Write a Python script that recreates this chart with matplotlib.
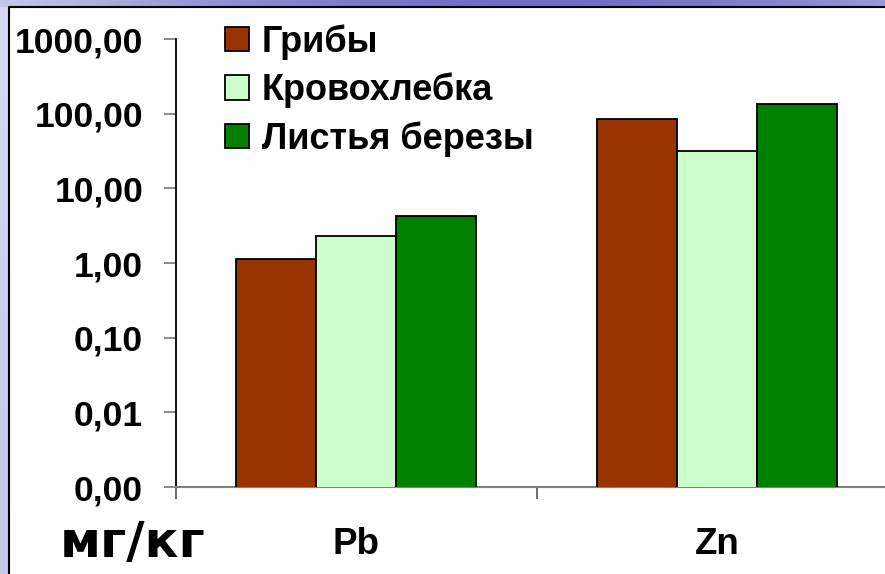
import matplotlib
matplotlib.use("Agg")
import matplotlib.pyplot as plt
import numpy as np
from matplotlib.patches import Rectangle

# Data
categories = ['Pb', 'Zn']
series = ['Грибы', 'Кровохлебка', 'Листья березы']
gribi = [1.13, 85.0]
krovohlebka = [2.3, 31.5]
berioza = [4.3, 133.0]
ytick_vals = [0.001, 0.01, 0.1, 1, 10, 100, 1000]
ytick_labels = ['0,00', '0,01', '0,10', '1,00', '10,00', '100,00', '1000,00']
unit_label = 'мг/кг'

colors = ['#993300', '#CCFFCC', '#008000']

plt.rcParams['font.family'] = ['Liberation Sans', 'DejaVu Sans']
plt.rcParams['font.weight'] = 'bold'

W, H = 885, 574
fig = plt.figure(figsize=(W / 100, H / 100), dpi=100)

# slide-like background: blue band on top, lavender strip on the left
bg = fig.add_axes([0, 0, 1, 1])
gx = np.linspace(0, 1, 300)[None, :] * np.ones((20, 1))
s = np.sin(gx * 2.6)
img = np.dstack([0.78 - 0.32 * s, 0.78 - 0.36 * s, 0.92 - 0.14 * s])
bg.imshow(np.clip(img, 0, 1), extent=[0, W, H - 8, H], aspect='auto', origin='upper', zorder=0)
t = np.linspace(0, 1, 200)[:, None] * np.ones((1, 10))
left_img = np.dstack([0.85 - 0.08 * t, 0.85 - 0.07 * t, 0.95 - 0.03 * t])
bg.imshow(left_img, extent=[0, 10, 0, H - 7], aspect='auto', origin='upper', zorder=0)
bg.add_patch(Rectangle((9, 0), W, H - 7, facecolor='white', edgecolor='none', zorder=1))
bg.plot([9, 9, W], [0, H - 7, H - 7], color='black', lw=1.5, zorder=2)
bg.set_xlim(0, W)
bg.set_ylim(0, H)
bg.axis('off')

ax = fig.add_axes([176 / W, (H - 487) / H, (897 - 176) / W, 448 / H])
ax.patch.set_alpha(0)

x = np.arange(len(categories))
w = 0.222
for i, (vals, name) in enumerate(zip([gribi, krovohlebka, berioza], series)):
    ax.bar(x + (i - 1) * w, vals, w, color=colors[i], edgecolor='black',
           linewidth=1.3, label=name, zorder=3)

ax.set_yscale('log')
ax.set_ylim(0.001, 1000)
ax.set_xlim(-0.5, 1.5)
ax.set_yticks(ytick_vals)
ax.set_yticklabels(ytick_labels)
ax.yaxis.set_minor_locator(matplotlib.ticker.NullLocator())
ax.tick_params(axis='y', length=8.6, width=1.3, color='#808080', pad=15,
               labelsize=25.5)

ax.set_xticks(x)
ax.set_xticklabels(categories)
ax.set_xticks([-0.5, 0.5], minor=True)
ax.tick_params(axis='x', which='major', length=0, pad=29, labelsize=26.5)
ax.tick_params(axis='x', which='minor', length=8.6, width=1.3, color='#606060')

for sp in ['top', 'right']:
    ax.spines[sp].set_visible(False)
ax.spines['left'].set_color('black')
ax.spines['left'].set_linewidth(1.3)
ax.spines['bottom'].set_color('#808080')
ax.spines['bottom'].set_linewidth(1.5)

fig.text(133 / W, (H - 557) / H, unit_label, family='DejaVu Sans',
         fontweight='bold', fontsize=36, ha='center', va='baseline')

fig.legend(loc='upper left', bbox_to_anchor=(225 / W, (H - 24) / H),
           frameon=False, fontsize=26, handlelength=0.66, handleheight=0.66,
           handletextpad=0.36, labelspacing=0.36, borderpad=0, borderaxespad=0)

fig.savefig('out.png', dpi=100)
